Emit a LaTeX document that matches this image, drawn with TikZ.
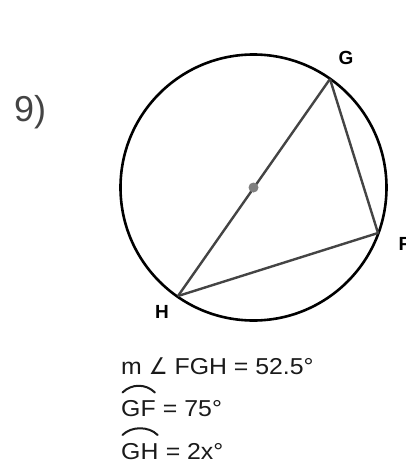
\documentclass[tikz,border=0pt]{standalone}
\usepackage{fontspec}
\setmainfont{Liberation Sans}
\newfontfamily\dejavu{DejaVu Sans}
\usetikzlibrary{calc}
\definecolor{chordgray}{HTML}{444444}
\definecolor{txt}{HTML}{1A1A1A}
\definecolor{dotgray}{HTML}{808080}
\newcommand{\wtxt}[1]{\scalebox{1.08}[1]{#1}}
\tikzset{
  circ/.style={line width=2.6pt, black},
  chord/.style={line width=2.4pt, chordgray, line join=round},
  ptlabel/.style={font=\fontsize{19}{22}\selectfont\bfseries, text=black, inner sep=0pt},
  eqtext/.style={font=\fontsize{23}{28}\selectfont, text=txt, inner sep=0pt, anchor=base west},
  arcmark/.style={line width=2pt, txt, line cap=round}
}
\begin{document}
\begin{tikzpicture}[x=1pt,y=-1pt]
\useasboundingbox (0,0) rectangle (406,464);
\fill[white] (0,0) rectangle (406,464);
\node[font=\fontsize{36}{40}\selectfont, text=chordgray, inner sep=0pt, anchor=base west] (num) at (14,121) {9)};
\coordinate (O) at (253.5,187.5);
\draw[circ] (O) circle (133pt);
\coordinate (G) at (330,79);
\coordinate (F) at (378,233);
\coordinate (H) at (178,296);
\draw[chord] (G) -- (H);
\draw[chord] (G) -- (F) -- (H);
\fill[dotgray] (O) circle (5pt);
\node[ptlabel] (lG) at (346,58) {G};
\node[ptlabel, anchor=west] (lF) at (398.5,244) {F};
\node[ptlabel] (lH) at (162,312) {H};
\node[eqtext] (e1) at (121,374.5) {\wtxt{m {\dejavu\scalebox{0.85}[1]{∠}} FGH = 52.5°}};
\node[eqtext] (gf) at (121,416.5) {\wtxt{GF}};
\node[eqtext] (e2) at (gf.base east) {\wtxt{\ = 75°}};
\node[eqtext] (gh) at (121,459) {\wtxt{GH}};
\node[eqtext] (e3) at (gh.base east) {\wtxt{\ = 2x°}};
\draw[arcmark] ($(gf.base west)+(1.5,-24)$) .. controls +(9,-9) and +(-9,-9) .. ($(gf.base east)+(-1,-24)$);
\draw[arcmark] ($(gh.base west)+(1.5,-24)$) .. controls +(9,-9) and +(-9,-9) .. ($(gh.base east)+(-1,-24)$);
\end{tikzpicture}
\end{document}
